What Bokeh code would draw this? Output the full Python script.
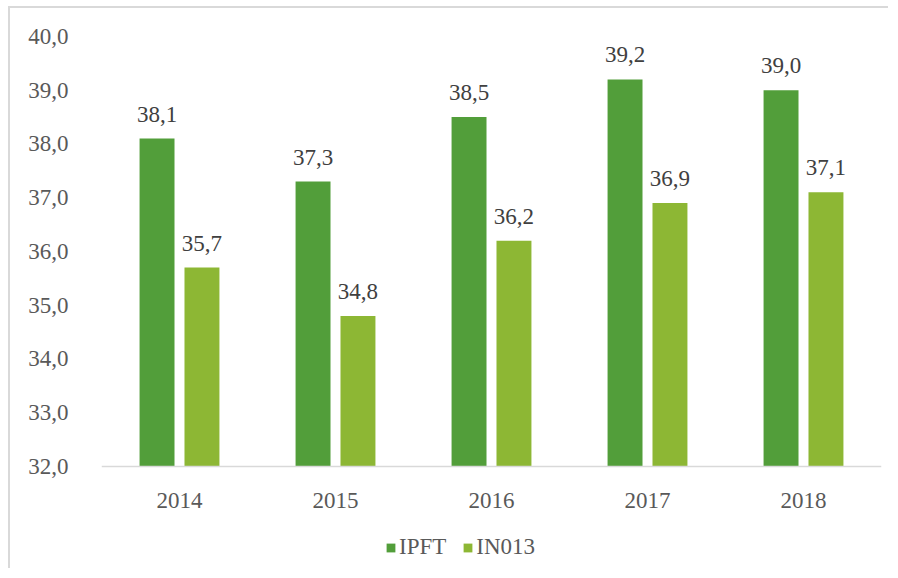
from bokeh.plotting import figure
from bokeh.models import (ColumnDataSource, FactorRange, Range1d, LabelSet, Legend, LegendItem,
                          CustomJSTickFormatter, Span)
from bokeh.core.properties import value
from bokeh.transform import dodge
from bokeh.embed import file_html
from bokeh.resources import INLINE

years = ["2014", "2015", "2016", "2017", "2018"]
ipft = [38.1, 37.3, 38.5, 39.2, 39.0]
in013 = [35.7, 34.8, 36.2, 36.9, 37.1]
series_names = ["IPFT", "IN013"]
colors = ["#529E3A", "#8DB734"]
y_ticks = [32, 33, 34, 35, 36, 37, 38, 39, 40]
y_base = 32

fmt = lambda v: f"{v:.1f}".replace(".", ",")
src = ColumnDataSource(dict(
    years=years, ipft=ipft, in013=in013,
    ipft_lbl=[fmt(v) for v in ipft], in013_lbl=[fmt(v) for v in in013],
    base=[y_base] * len(years),
))

FONT = "Liberation Serif"
# frame spans from the top of the value axis down to the bottom of the figure,
# so the category labels and the legend can sit inside it below the baseline
p = figure(x_range=FactorRange(*years), y_range=Range1d(30.065, 40), width=880, height=562,
           output_backend="svg", toolbar_location=None, x_axis_location=None,
           min_border_left=91, min_border_right=9, min_border_top=28, min_border_bottom=0)
p.outline_line_color = None
p.xgrid.grid_line_color = None
p.ygrid.grid_line_color = None
p.x_range.range_padding = 0

r1 = p.vbar(x=dodge("years", -0.144, range=p.x_range), top="ipft", bottom="base", width=0.224,
            source=src, fill_color=colors[0], line_color=None)
r2 = p.vbar(x=dodge("years", 0.144, range=p.x_range), top="in013", bottom="base", width=0.224,
            source=src, fill_color=colors[1], line_color=None)

p.add_layout(Span(location=y_base, dimension="width", line_color="#D9D9D9", line_width=1.5))

for col, off in (("ipft", -0.144), ("in013", 0.144)):
    lab = LabelSet(x=dodge("years", off, range=p.x_range), y=col, text=col + "_lbl", source=src,
                   text_align="center", text_baseline="alphabetic", y_offset=17,
                   text_font=value(FONT), text_font_size=value("23px"), text_color="#404040")
    p.add_layout(lab)

# category labels under the baseline
p.text(x="years", y="base", text="years", source=src, text_align="center",
       text_baseline="alphabetic", y_offset=34, text_font=value(FONT),
       text_font_size="23px", text_color="#595959")

p.yaxis.ticker = y_ticks
p.yaxis.formatter = CustomJSTickFormatter(code="return tick.toFixed(1).replace('.', ',');")
p.yaxis.axis_line_color = None
p.yaxis.major_tick_line_color = None
p.yaxis.minor_tick_line_color = None
p.yaxis.major_label_standoff = 27
p.yaxis.major_label_text_font = FONT
p.yaxis.major_label_text_font_size = "23px"
p.yaxis.major_label_text_color = "#595959"

legend = Legend(items=[LegendItem(label=series_names[0], renderers=[r1]),
                       LegendItem(label=series_names[1], renderers=[r2])],
                orientation="horizontal", location=(284, 10),
                label_text_font=FONT, label_text_font_size="23px", label_text_color="#595959",
                glyph_width=11, glyph_height=11, label_standoff=3, spacing=16,
                border_line_color=None, background_fill_alpha=0, margin=0, padding=0)
p.add_layout(legend)

p.margin = (6, 0, 0, 8)
p.styles = {"border-left": "2px solid #D9D9D9", "border-top": "2px solid #D9D9D9"}

open("out.html", "w").write(file_html(p, INLINE))
